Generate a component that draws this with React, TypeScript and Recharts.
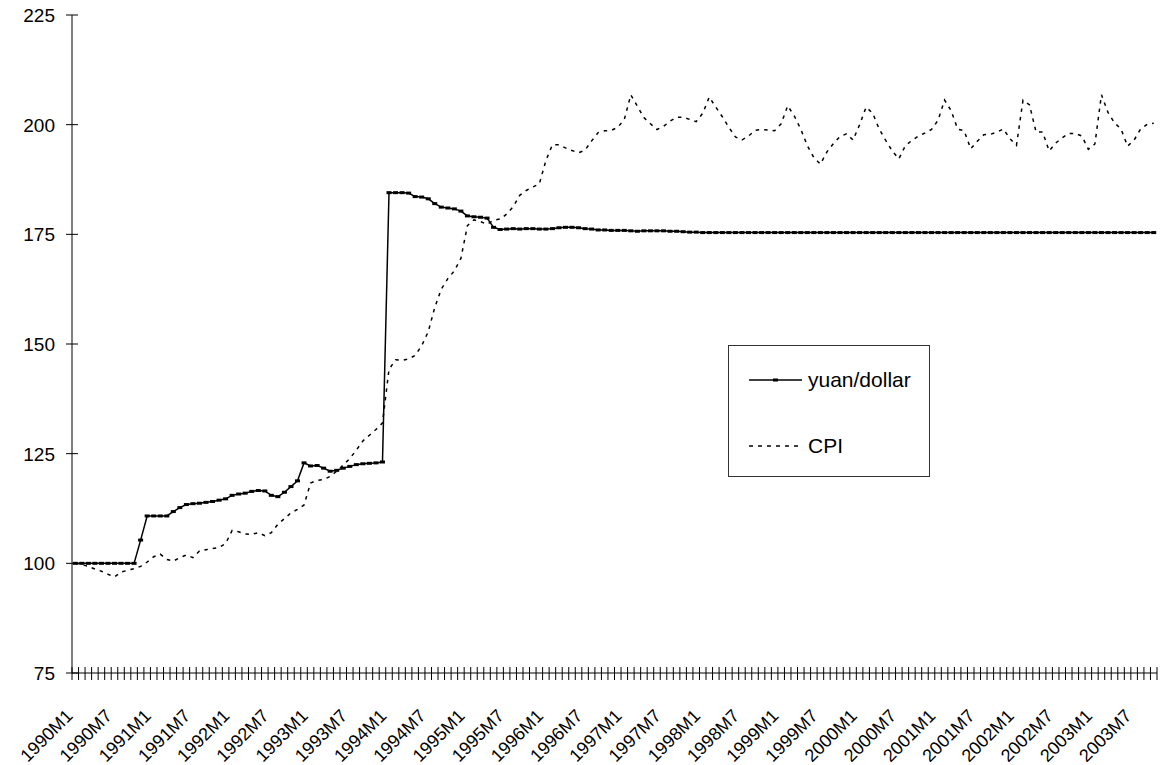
import React from 'react';
import { LineChart, Line, XAxis, YAxis, Legend } from 'recharts';

// labels shown under the axis (every 6th month)
const TICK_LABELS = [
  '1990M1', '1990M7', '1991M1', '1991M7', '1992M1', '1992M7', '1993M1', '1993M7',
  '1994M1', '1994M7', '1995M1', '1995M7', '1996M1', '1996M7', '1997M1', '1997M7',
  '1998M1', '1998M7', '1999M1', '1999M7', '2000M1', '2000M7', '2001M1', '2001M7',
  '2002M1', '2002M7', '2003M1', '2003M7',
];

// index, 1990M1 = 100
const YUAN_DOLLAR = [
  100, 100, 100, 100, 100, 100, 100, 100, 100, 100, 105.3, 110.8,
  110.8, 110.8, 110.8, 111.8, 112.7, 113.4, 113.6, 113.7, 113.9, 114.1, 114.4, 114.7,
  115.5, 115.8, 116.0, 116.4, 116.6, 116.5, 115.5, 115.2, 116.2, 117.5, 118.8, 122.9,
  122.2, 122.3, 121.7, 121.0, 121.2, 121.7, 122.1, 122.5, 122.7, 122.8, 122.9, 123.1,
  184.5, 184.5, 184.5, 184.4, 183.6, 183.5, 183.1, 182.0, 181.2, 181.0, 180.8, 180.3,
  179.2, 179.0, 178.9, 178.7, 176.6, 176.1, 176.2, 176.3, 176.2, 176.3, 176.3, 176.2,
  176.2, 176.3, 176.5, 176.6, 176.6, 176.5, 176.3, 176.2, 176.0, 176.0, 175.9, 175.9,
  175.9, 175.8, 175.7, 175.8, 175.8, 175.8, 175.8, 175.7, 175.7, 175.6, 175.5, 175.5,
  175.4, 175.4, 175.4, 175.4, 175.4, 175.4, 175.4, 175.4, 175.4, 175.4, 175.4, 175.4,
  175.4, 175.4, 175.4, 175.4, 175.4, 175.4, 175.4, 175.4, 175.4, 175.4, 175.4, 175.4,
  175.4, 175.4, 175.4, 175.4, 175.4, 175.4, 175.4, 175.4, 175.4, 175.4, 175.4, 175.4,
  175.4, 175.4, 175.4, 175.4, 175.4, 175.4, 175.4, 175.4, 175.4, 175.4, 175.4, 175.4,
  175.4, 175.4, 175.4, 175.4, 175.4, 175.4, 175.4, 175.4, 175.4, 175.4, 175.4, 175.4,
  175.4, 175.4, 175.4, 175.4, 175.4, 175.4, 175.4, 175.4, 175.4, 175.4,
];

const CPI = [
  100, 99.7, 99.3, 98.7, 98.2, 97.5, 96.9, 98.0, 98.4, 98.8, 99.3, 100.3,
  101.5, 102.1, 100.9, 100.5, 101.3, 101.9, 101.3, 102.8, 103.1, 103.4, 103.6, 104.5,
  107.5, 107.2, 106.7, 106.6, 107.0, 106.3, 107.0, 108.9, 110.2, 111.5, 112.3, 113.3,
  118.3, 118.9, 119.1, 119.8, 121.0, 122.4, 123.9, 125.8, 127.9, 129.2, 130.5, 132.0,
  144.2, 146.4, 146.3, 146.6, 147.4, 149.6, 152.8, 158.3, 162.5, 164.9, 166.7, 169.5,
  177.0, 178.3, 177.9, 177.3, 178.2, 178.5, 179.6, 181.3, 183.9, 185.0, 185.8, 186.5,
  191.8, 195.4, 195.4, 194.7, 194.1, 193.6, 194.2, 196.3, 198.2, 198.6, 198.7, 199.4,
  201.2, 206.8, 204.2, 201.6, 200.2, 198.9, 199.6, 200.8, 201.7, 201.7, 201.2, 200.7,
  202.6, 206.3, 204.0, 201.8, 199.4, 197.2, 196.5, 197.4, 198.7, 198.9, 198.8, 198.6,
  200.2, 204.3, 202.0, 199.0, 195.2, 192.5, 191.0, 193.8, 195.7, 197.3, 197.9, 196.5,
  200.0, 204.0, 202.6, 199.0, 196.4, 194.0, 192.2, 195.2, 196.4, 197.4, 198.1, 198.9,
  201.0, 205.6, 203.2, 199.0, 198.6, 194.5, 196.2, 197.7, 197.8, 198.3, 199.0, 196.8,
  195.3, 205.6, 204.5, 198.3, 198.3, 194.0, 195.8, 197.0, 198.0, 198.0, 197.4, 194.4,
  195.6, 206.8, 202.8, 200.4, 199.0, 195.1, 196.5, 199.0, 200.1, 200.3,
];

const Y_TICKS = [75, 100, 125, 150, 175, 200, 225];

const N = YUAN_DOLLAR.length;
const W = 1161;
const H = 765;
const PLOT_LEFT = 72;
const PLOT_RIGHT = 1157;
const PLOT_TOP = 15;
const PLOT_BOTTOM = 673;
const BAND = (PLOT_RIGHT - PLOT_LEFT) / N;
const FONT = '"Liberation Sans", Arial, sans-serif';

const MONTHS: string[] = [];
for (let yr = 1990; MONTHS.length < N; yr++) {
  for (let m = 1; m <= 12 && MONTHS.length < N; m++) MONTHS.push(`${yr}M${m}`);
}

const data = MONTHS.map((month, i) => ({
  month,
  pos: i + 0.5,
  yuan: YUAN_DOLLAR[i],
  cpi: CPI[i],
}));

const boundaries = Array.from({ length: N + 1 }, (_, i) => i);

function XTick(props: any) {
  const { x, payload } = props;
  const v = payload.value;
  const label = v % 6 === 0 && v < N ? TICK_LABELS[v / 6] : null;
  const lx = x + BAND / 2 - 1.5;
  const ly = PLOT_BOTTOM + 44;
  return (
    <g>
      <line x1={x} y1={PLOT_BOTTOM - 6} x2={x} y2={PLOT_BOTTOM + 7} stroke="#000" strokeWidth={1} />
      {label && (
        <text
          x={lx}
          y={ly}
          textAnchor="end"
          fontSize={18}
          fontFamily={FONT}
          fill="#000"
          transform={`rotate(-45, ${lx}, ${ly})`}
        >
          {label}
        </text>
      )}
    </g>
  );
}

function YTick(props: any) {
  const { y, payload } = props;
  return (
    <g>
      <line x1={PLOT_LEFT - 6} y1={y} x2={PLOT_LEFT + 6} y2={y} stroke="#000" strokeWidth={1} />
      <text x={PLOT_LEFT - 17} y={y} dy="0.36em" textAnchor="end" fontSize={19} fontFamily={FONT} fill="#000">
        {payload.value}
      </text>
    </g>
  );
}

const YuanDot = (props: any) => {
  const { cx, cy, index } = props;
  if (cx == null || cy == null) return <g key={`d${index}`} />;
  return <rect key={`d${index}`} x={cx - 2.5} y={cy - 1.5} width={5} height={3} fill="#000" />;
};

const renderLegend = () => (
  <div
    style={{
      width: 202,
      height: 132,
      border: '1px solid #333',
      boxSizing: 'border-box',
      background: '#fff',
    }}
  >
    <svg width={200} height={130} style={{ display: 'block' }}>
      <line x1={20} y1={34} x2={73} y2={34} stroke="#000" strokeWidth={1.5} />
      <rect x={44} y={32.5} width={5} height={3} fill="#000" />
      <text x={79} y={34} dy="0.35em" fontSize={21} fontFamily={FONT} fill="#000">
        yuan/dollar
      </text>
      <line x1={20} y1={100} x2={73} y2={100} stroke="#000" strokeWidth={1.5} strokeDasharray="4 5" />
      <text x={79} y={100} dy="0.35em" fontSize={21} fontFamily={FONT} fill="#000">
        CPI
      </text>
    </svg>
  </div>
);

export default function App() {
  return (
    <div style={{ position: 'absolute', left: 0, top: 0, width: W, height: H, background: '#fff' }}>
      <LineChart
        width={W}
        height={H}
        data={data}
        margin={{ top: PLOT_TOP, right: W - PLOT_RIGHT, bottom: 0, left: 0 }}
      >
        <XAxis
          dataKey="pos"
          type="number"
          domain={[0, N]}
          ticks={boundaries}
          interval={0}
          tick={<XTick />}
          tickLine={false}
          tickSize={0}
          tickMargin={0}
          height={H - PLOT_BOTTOM}
          axisLine={{ stroke: '#000', strokeWidth: 1 }}
          allowDecimals={false}
        />
        <YAxis
          type="number"
          domain={[75, 225]}
          ticks={Y_TICKS}
          interval={0}
          tick={<YTick />}
          tickLine={false}
          tickSize={0}
          tickMargin={0}
          width={PLOT_LEFT}
          axisLine={{ stroke: '#000', strokeWidth: 1 }}
          allowDataOverflow
        />
        <Legend
          layout="horizontal"
          verticalAlign="middle"
          align="center"
          content={renderLegend}
          wrapperStyle={{ position: 'absolute', left: 728, top: 345, width: 202, height: 132 }}
        />
        <Line
          type="linear"
          dataKey="cpi"
          name="CPI"
          stroke="#000"
          strokeWidth={1.5}
          strokeDasharray="3.5 5"
          dot={false}
          activeDot={false}
          isAnimationActive={false}
        />
        <Line
          type="linear"
          dataKey="yuan"
          name="yuan/dollar"
          stroke="#000"
          strokeWidth={1.5}
          dot={YuanDot}
          activeDot={false}
          isAnimationActive={false}
        />
      </LineChart>
    </div>
  );
}
